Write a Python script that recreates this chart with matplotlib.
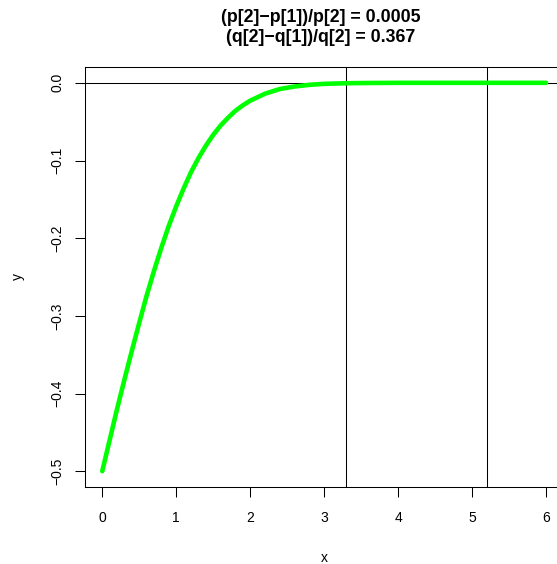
import matplotlib
matplotlib.use("Agg")
import matplotlib.pyplot as plt

plt.rcParams['font.family'] = ['Liberation Sans', 'DejaVu Sans']

# curve values
x_vals = [0.0, 0.1, 0.2, 0.3, 0.4, 0.5, 0.6, 0.7, 0.8, 0.9, 1.0, 1.1, 1.2, 1.3,
          1.4, 1.5, 1.6, 1.7, 1.8, 1.9, 2.0, 2.2, 2.4, 2.6, 2.8, 3.0, 3.3, 3.6,
          4.0, 5.0, 6.0]
y_vals = [-0.5, -0.46, -0.42, -0.382, -0.345, -0.309, -0.274, -0.242, -0.212,
          -0.184, -0.159, -0.136, -0.115, -0.097, -0.081, -0.067, -0.055,
          -0.045, -0.036, -0.029, -0.023, -0.014, -0.008, -0.0047, -0.0026,
          -0.0013, -0.0005, -0.0002, 0.0, 0.0, 0.0]

# vertical reference lines (quantiles)
q_lines = [3.29, 5.2]

x_ticks = [0, 1, 2, 3, 4, 5, 6]
y_ticks = [-0.5, -0.4, -0.3, -0.2, -0.1, 0.0]

title_lines = ["(p[2]\u2212p[1])/p[2] = 0.0005", "(q[2]\u2212q[1])/q[2] = 0.367"]

W, H = 557, 564
fig = plt.figure(figsize=(W / 100, H / 100), dpi=100)
left, right, top, bottom = 84.5, 563.8, 67.3, 486.7
ax = fig.add_axes([left / W, 1 - bottom / H, (right - left) / W, (bottom - top) / H])

ax.plot(x_vals, y_vals, color='#00ff00', lw=3.3, solid_capstyle='round', zorder=3)
ax.axhline(0, color='black', lw=0.75)
for q in q_lines:
    ax.axvline(q, color='black', lw=0.75)

ax.set_xlim(-0.24, 6.24)
ax.set_ylim(-0.52, 0.02)
ax.set_xticks(x_ticks)
ax.set_xticklabels([str(t) for t in x_ticks])
ax.set_yticks(y_ticks)
ax.set_yticklabels([f"{t:.1f}".replace('-', '\u2212') for t in y_ticks],
                   rotation=90, va='center')
ax.tick_params(direction='out', length=7.2, width=0.75, labelsize=10)
ax.tick_params(axis='x', pad=10.5)
ax.tick_params(axis='y', pad=7)
for s in ax.spines.values():
    s.set_linewidth(0.75)

fig.text(18 / W, 1 - 277 / H, 'y', rotation=90, ha='center', va='center', fontsize=10)
fig.text(324 / W, 1 - 558 / H, 'x', ha='center', va='center', fontsize=10)
for i, line in enumerate(title_lines):
    fig.text(321 / W, 1 - (17 + 21 * i) / H, line, ha='center', va='center',
             fontsize=12.8, fontweight='bold')

fig.savefig('out.png', dpi=100)
